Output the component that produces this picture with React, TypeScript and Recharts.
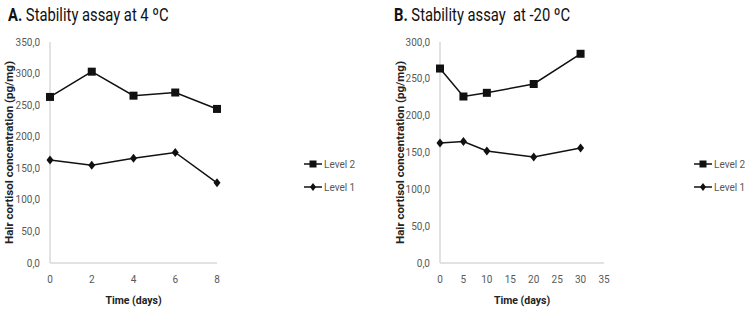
import React from "react";
import { LineChart, Line, XAxis, YAxis, Legend, Label } from "recharts";

const daysA = [0, 2, 4, 6, 8];
const level2A = [263, 303, 265, 270, 244];
const level1A = [163, 155, 166, 175, 127];
const yTicksA = [0, 50, 100, 150, 200, 250, 300, 350];
const xTicksA = [0, 2, 4, 6, 8];

const daysB = [0, 5, 10, 20, 30];
const level2B = [264, 226, 231, 243, 284];
const level1B = [163, 165, 152, 144, 156];
const yTicksB = [0, 50, 100, 150, 200, 250, 300];
const xTicksB = [0, 5, 10, 15, 20, 25, 30, 35];

const seriesNames = ["Level 2", "Level 1"];

const FONT = "'Roboto', 'Open Sans', sans-serif";
const INK = "#111";
const AXIS = "#d9d9d9";
const TICK = "#595959";

const build = (days: number[], l2: number[], l1: number[]) =>
  days.map((d, i) => ({ day: d, level2: l2[i], level1: l1[i] }));

const dataA = build(daysA, level2A, level1A);
const dataB = build(daysB, level2B, level1B);

const fmt = (v: number) => v.toFixed(1).replace(".", ",");

const SquareDot = (props: any) => {
  const { cx, cy, index } = props;
  if (cx == null || cy == null) return <g key={index} />;
  return <rect key={index} x={cx - 4} y={cy - 4} width={8} height={8} fill={INK} />;
};
const DiamondDot = (props: any) => {
  const { cx, cy, index } = props;
  if (cx == null || cy == null) return <g key={index} />;
  return (
    <polygon
      key={index}
      points={`${cx},${cy - 4.5} ${cx + 3.5},${cy} ${cx},${cy + 4.5} ${cx - 3.5},${cy}`}
      fill={INK}
    />
  );
};

const LegendContent = () => (
  <div style={{ fontFamily: FONT, fontSize: 10, color: TICK }}>
    {seriesNames.map((name, i) => (
      <div key={name} style={{ display: "flex", alignItems: "center", height: 12, marginBottom: 11 }}>
        <svg width={18} height={10} style={{ marginRight: 2 }}>
          <line x1={0} y1={5} x2={18} y2={5} stroke={INK} strokeWidth={1.5} />
          {i === 0 ? (
            <rect x={5.5} y={1.5} width={7} height={7} fill={INK} />
          ) : (
            <polygon points="9,1 12,5 9,9 6,5" fill={INK} />
          )}
        </svg>
        <span>{name}</span>
      </div>
    ))}
  </div>
);

type PanelProps = {
  width: number;
  data: any[];
  yMax: number;
  yTicks: number[];
  xMax: number;
  xTicks: number[];
  yAxisWidth: number;
  rightMargin: number;
  labelOffset: number;
  legendLeft: number;
};

const Panel = (p: PanelProps) => (
  <LineChart
    width={p.width}
    height={310}
    data={p.data}
    margin={{ top: 42, right: p.rightMargin, bottom: 0, left: 0 }}
  >
    <XAxis
      dataKey="day"
      type="number"
      domain={[0, p.xMax]}
      ticks={p.xTicks}
      interval={0}
      height={47}
      tickLine={false}
      tickMargin={7}
      axisLine={{ stroke: AXIS, strokeWidth: 1.5 }}
      tick={{ fill: TICK, fontSize: 10, fontFamily: FONT }}
    >
      <Label
        value="Time (days)"
        position="insideBottom"
        offset={6}
        style={{ fill: "#222", fontSize: 10.5, fontWeight: "bold", fontFamily: FONT }}
      />
    </XAxis>
    <YAxis
      type="number"
      domain={[0, p.yMax]}
      ticks={p.yTicks}
      interval={0}
      width={p.yAxisWidth}
      tickLine={false}
      tickMargin={4}
      tickFormatter={fmt}
      axisLine={{ stroke: AXIS, strokeWidth: 1.5 }}
      tick={{ fill: TICK, fontSize: 10, fontFamily: FONT }}
    >
      <Label
        value="Hair cortisol concentration (pg/mg)"
        angle={-90}
        position="insideLeft"
        offset={p.labelOffset}
        style={{ textAnchor: "middle", fill: "#222", fontSize: 11.5, fontWeight: "bold", fontFamily: FONT }}
      />
    </YAxis>
    <Legend
      layout="horizontal"
      verticalAlign="middle"
      align="right"
      content={<LegendContent />}
      wrapperStyle={{ left: p.legendLeft, top: 158, width: 70, height: 40 }}
    />
    <Line
      dataKey="level2"
      name="Level 2"
      stroke={INK}
      strokeWidth={1.5}
      dot={SquareDot}
      activeDot={false}
      isAnimationActive={false}
    />
    <Line
      dataKey="level1"
      name="Level 1"
      stroke={INK}
      strokeWidth={1.5}
      dot={DiamondDot}
      activeDot={false}
      isAnimationActive={false}
    />
  </LineChart>
);

const titleStyle: React.CSSProperties = {
  position: "absolute",
  top: 4,
  fontFamily: FONT,
  fontSize: 18,
  color: "#111",
  whiteSpace: "nowrap",
  lineHeight: "22px",
  transform: "scaleX(0.82)",
  transformOrigin: "left top",
};

export default function App() {
  return (
    <div style={{ position: "absolute", left: 0, top: 0, width: 745, height: 310, background: "#fff" }}>
      <div style={{ position: "absolute", left: 0, top: 0 }}>
        <Panel
          width={372}
          data={dataA}
          yMax={350}
          yTicks={yTicksA}
          xMax={8}
          xTicks={xTicksA}
          yAxisWidth={50}
          rightMargin={85}
          labelOffset={9}
          legendLeft={304}
        />
      </div>
      <div style={{ position: "absolute", left: 372, top: 0 }}>
        <Panel
          width={373}
          data={dataB}
          yMax={300}
          yTicks={yTicksB}
          xMax={35}
          xTicks={xTicksB}
          yAxisWidth={68}
          rightMargin={71}
          labelOffset={28}
          legendLeft={322}
        />
      </div>
      <div style={{ ...titleStyle, left: 8 }}>
        <b>A.</b> Stability assay at 4 ºC
      </div>
      <div style={{ ...titleStyle, left: 394 }}>
        <b>B.</b> Stability assay&nbsp; at -20 ºC
      </div>
    </div>
  );
}
